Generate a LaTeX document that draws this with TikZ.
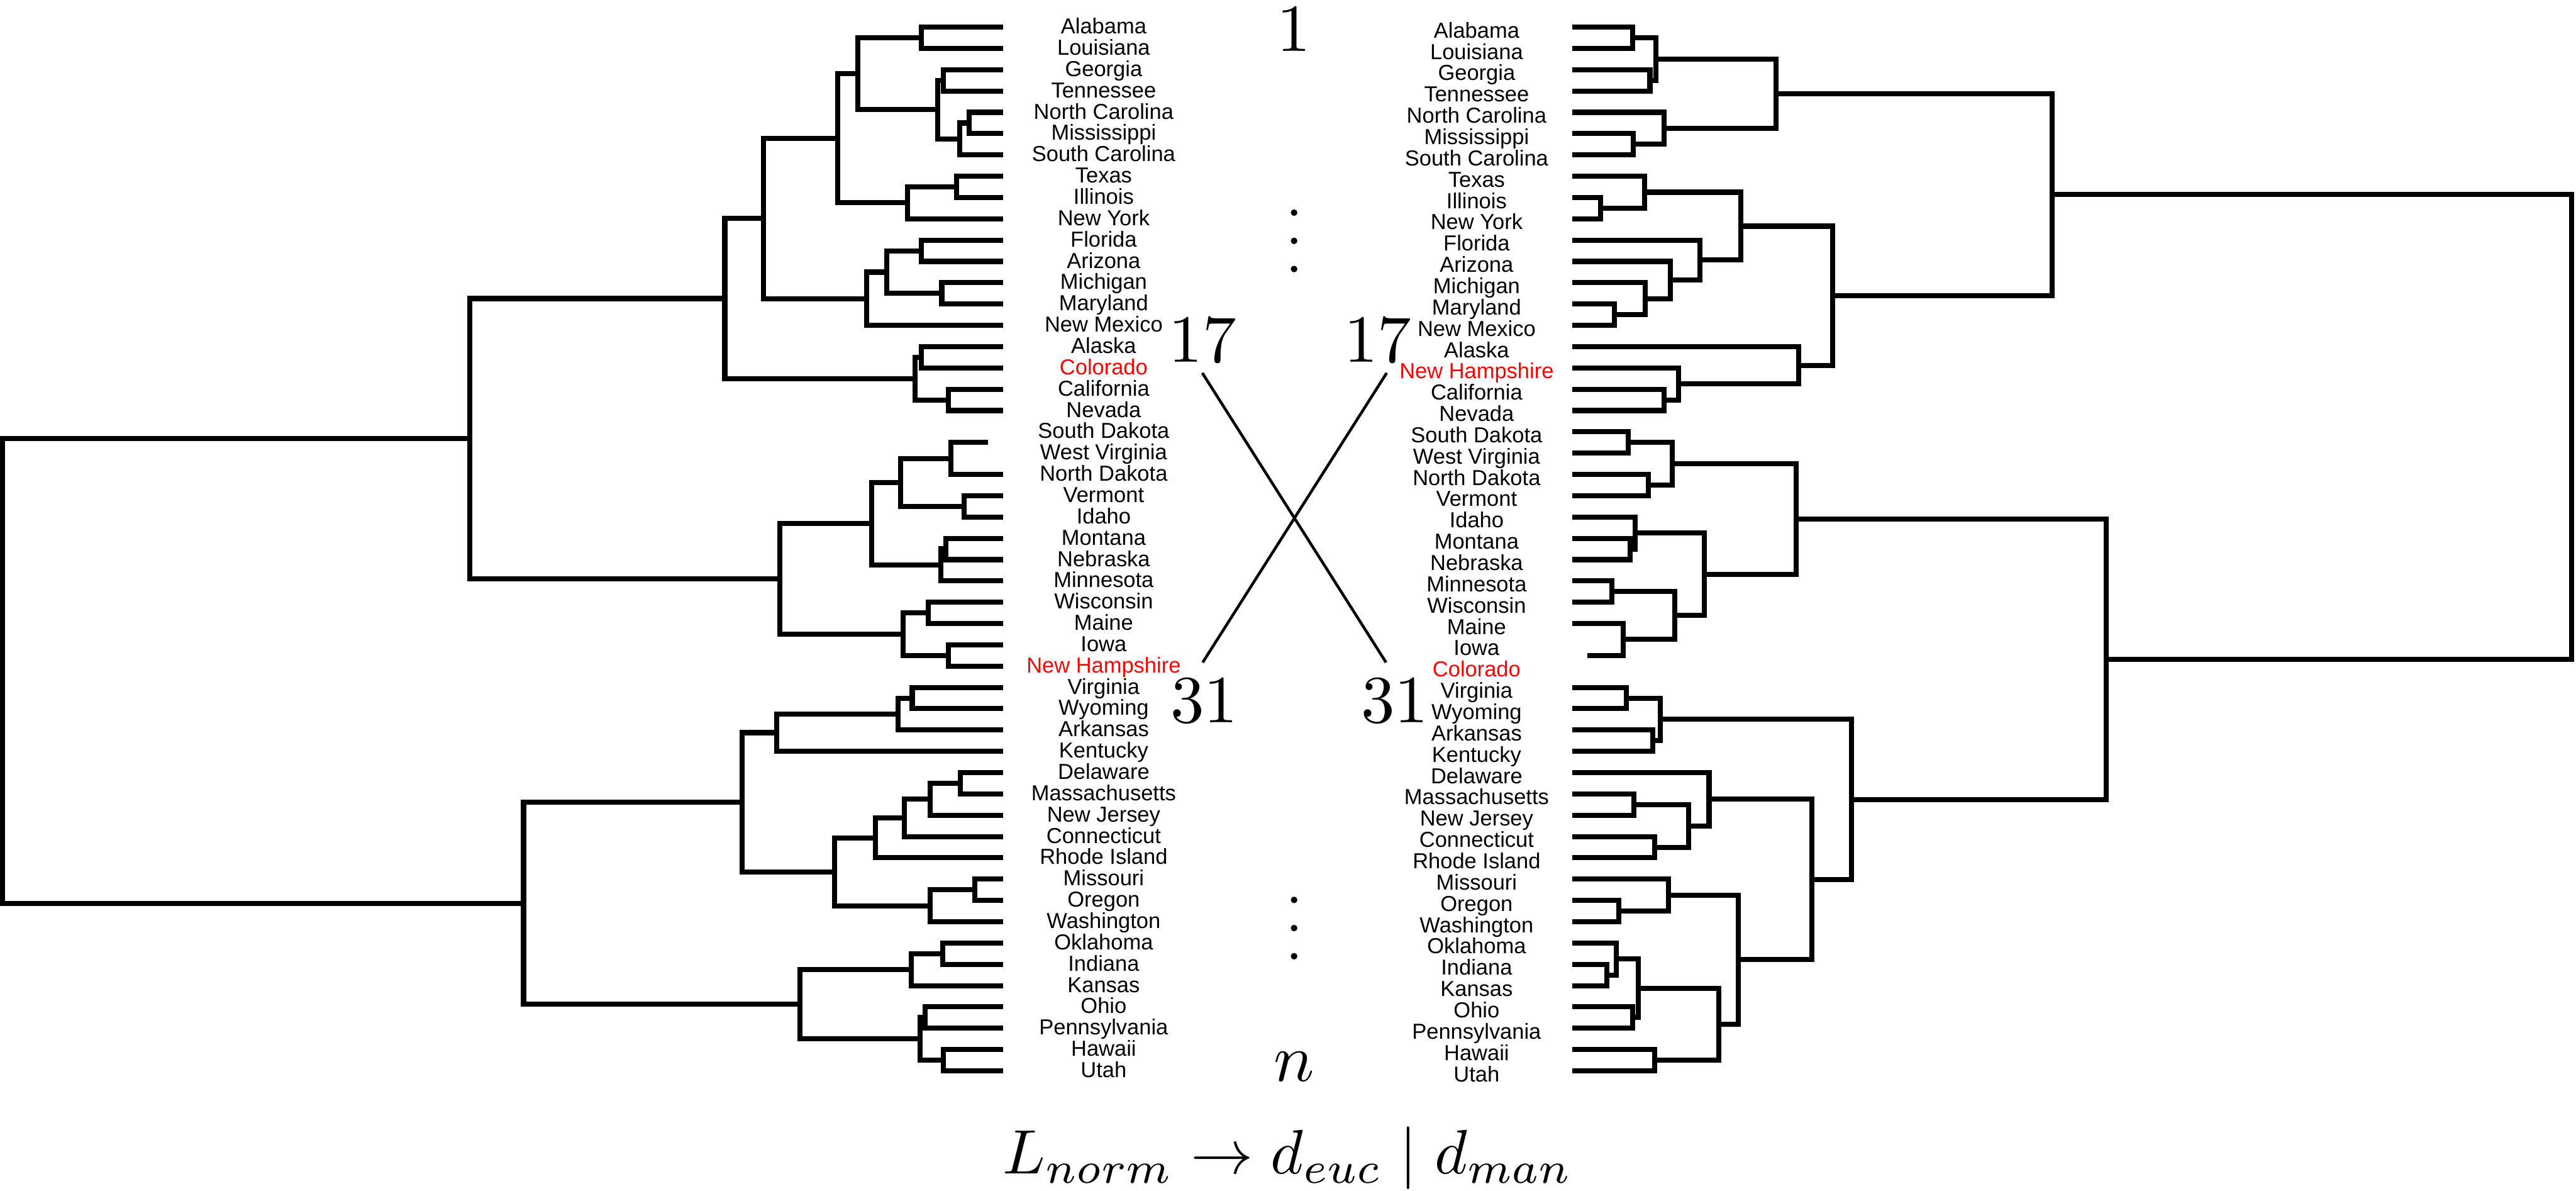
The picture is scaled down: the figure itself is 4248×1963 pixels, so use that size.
\documentclass[tikz,border=0pt]{standalone}
\usepackage[no-math]{fontspec}
\newfontfamily\statefont{Liberation Sans}
\usepackage{tikz}

\begin{document}
\begin{tikzpicture}[x=0.36911pt, y=-0.36911pt,
    branch/.style={line width=3.1pt, line join=miter},
    statelabel/.style={font=\statefont\fontsize{13.2}{14}\selectfont,
        inner sep=0pt, text height=9.45pt, text depth=0pt},
    lstate/.style={statelabel, yshift=0.7pt},
    rstate/.style={statelabel, yshift=-1.8pt},
    bignum/.style={font=\normalsize, scale=4.1, inner sep=0pt, anchor=base},
    crossline/.style={line width=1.7pt}]

\useasboundingbox (0,0) rectangle (4248,1963);

% =============================================================================
% Left dendrogram
% =============================================================================
% Southern block
\draw[branch] (1654,44.7) -| (1519.5,79.8) -- (1654,79.8);
\draw[branch] (1654,115.0) -| (1555.2,150.0) -- (1654,150.0);
\draw[branch] (1654,185.1) -| (1598.6,220.3) -- (1654,220.3);
\draw[branch] (1598.6,202.7) -| (1582.9,255.4) -- (1654,255.4);
\draw[branch] (1555.2,132.5) -| (1546.6,229.0) -- (1582.9,229.0);
\draw[branch] (1519.5,62.3) -| (1414.3,180.8) -- (1546.6,180.8);
\draw[branch] (1654,290.5) -| (1577.5,325.6) -- (1654,325.6);
\draw[branch] (1577.5,308.1) -| (1496.1,360.7) -- (1654,360.7);
\draw[branch] (1414.3,121.5) -| (1381.8,334.4) -- (1496.1,334.4);
\draw[branch] (1654,395.8) -| (1519.5,430.9) -- (1654,430.9);
\draw[branch] (1654,466.0) -| (1553.1,501.1) -- (1654,501.1);
\draw[branch] (1519.5,413.4) -| (1462.0,483.6) -- (1553.1,483.6);
\draw[branch] (1462.0,448.5) -| (1429.5,536.2) -- (1654,536.2);
\draw[branch] (1381.8,228.0) -| (1258.7,492.3) -- (1429.5,492.3);
\draw[branch] (1654,571.4) -| (1519.5,606.5) -- (1654,606.5);
\draw[branch] (1654,641.6) -| (1563.9,676.7) -- (1654,676.7);
\draw[branch] (1519.5,589.0) -| (1508.6,659.2) -- (1563.9,659.2);
\draw[branch] (1258.7,360.1) -| (1195.3,624.1) -- (1508.6,624.1);

% Northern block
\draw[branch] (1629,729.4) -| (1567.7,782.0) -- (1654,782.0);
\draw[branch] (1654,817.1) -| (1589.4,852.2) -- (1654,852.2);
\draw[branch] (1567.7,755.7) -| (1485.3,834.7) -- (1589.4,834.7);
\draw[branch] (1654,887.3) -| (1559.6,922.5) -- (1654,922.5);
\draw[branch] (1559.6,904.9) -| (1551.4,957.6) -- (1654,957.6);
\draw[branch] (1485.3,795.2) -| (1437.6,931.3) -- (1551.4,931.3);
\draw[branch] (1654,992.7) -| (1530.3,1027.8) -- (1654,1027.8);
\draw[branch] (1654,1062.9) -| (1563.9,1098.0) -- (1654,1098.0);
\draw[branch] (1530.3,1010.3) -| (1489.1,1080.5) -- (1563.9,1080.5);
\draw[branch] (1437.6,863.2) -| (1285.8,1045.4) -- (1489.1,1045.4);
\draw[branch] (1195.3,492.1) -| (775,954.3) -- (1285.8,954.3);

% Eastern block
\draw[branch] (1654,1133.1) -| (1504.3,1168.2) -- (1654,1168.2);
\draw[branch] (1504.3,1150.7) -| (1481.0,1203.3) -- (1654,1203.3);
\draw[branch] (1481.0,1177.0) -| (1280.4,1238.4) -- (1654,1238.4);
\draw[branch] (1654,1273.6) -| (1584.0,1308.7) -- (1654,1308.7);
\draw[branch] (1584.0,1291.2) -| (1534.1,1343.8) -- (1654,1343.8);
\draw[branch] (1534.1,1317.5) -| (1491.8,1378.9) -- (1654,1378.9);
\draw[branch] (1491.8,1348.2) -| (1444.1,1414.0) -- (1654,1414.0);
\draw[branch] (1654,1449.1) -| (1607.3,1484.2) -- (1654,1484.2);
\draw[branch] (1607.3,1466.7) -| (1534.1,1519.3) -- (1654,1519.3);
\draw[branch] (1444.1,1381.1) -| (1376.3,1493.0) -- (1534.1,1493.0);
\draw[branch] (1280.4,1207.7) -| (1223.5,1437.1) -- (1376.3,1437.1);
\draw[branch] (1654,1554.4) -| (1554.2,1589.5) -- (1654,1589.5);
\draw[branch] (1554.2,1572.0) -| (1502.7,1624.7) -- (1654,1624.7);
\draw[branch] (1654,1659.8) -| (1526.0,1694.9) -- (1654,1694.9);
\draw[branch] (1654,1730.0) -| (1555.8,1765.1) -- (1654,1765.1);
\draw[branch] (1526.0,1677.4) -| (1517.3,1747.6) -- (1555.8,1747.6);
\draw[branch] (1502.7,1598.3) -| (1319.4,1712.5) -- (1517.3,1712.5);
\draw[branch] (1223.5,1322.4) -| (863.4,1655.4) -- (1319.4,1655.4);

% Root
\draw[branch] (775,723.2) -| (4.5,1488.9) -- (863.4,1488.9);

% =============================================================================
% Right dendrogram
% =============================================================================
% Top block
\draw[branch] (2593,44.7) -| (2692.3,79.8) -- (2593,79.8);
\draw[branch] (2593,115.0) -| (2720.8,150.0) -- (2593,150.0);
\draw[branch] (2692.3,62.3) -| (2730.5,132.5) -- (2720.8,132.5);
\draw[branch] (2593,220.3) -| (2693.5,255.4) -- (2593,255.4);
\draw[branch] (2593,185.1) -| (2744.4,237.9) -- (2693.5,237.9);
\draw[branch] (2730.5,97.4) -| (2928.6,211.5) -- (2744.4,211.5);
\draw[branch] (2593,325.6) -| (2639.6,360.7) -- (2593,360.7);
\draw[branch] (2593,290.5) -| (2712.3,343.2) -- (2639.6,343.2);
\draw[branch] (2593,501.1) -| (2662.0,536.2) -- (2593,536.2);
\draw[branch] (2593,466.0) -| (2713.5,518.7) -- (2662.0,518.7);
\draw[branch] (2593,430.9) -| (2754.7,492.3) -- (2713.5,492.3);
\draw[branch] (2593,395.8) -| (2803.2,461.6) -- (2754.7,461.6);
\draw[branch] (2712.3,316.8) -| (2871.0,428.7) -- (2803.2,428.7);
\draw[branch] (2593,641.6) -| (2743.8,676.7) -- (2593,676.7);
\draw[branch] (2593,606.5) -| (2768.0,659.2) -- (2743.8,659.2);
\draw[branch] (2593,571.4) -| (2966.2,632.8) -- (2768.0,632.8);
\draw[branch] (2871.0,372.8) -| (3022.5,602.1) -- (2966.2,602.1);
\draw[branch] (2928.6,154.4) -| (3384.0,487.4) -- (3022.5,487.4);

% Middle block
\draw[branch] (2593,711.8) -| (2685.0,746.9) -- (2593,746.9);
\draw[branch] (2593,782.0) -| (2717.8,817.1) -- (2593,817.1);
\draw[branch] (2685.0,729.4) -| (2757.7,799.6) -- (2717.8,799.6);
\draw[branch] (2593,887.3) -| (2688.1,922.5) -- (2593,922.5);
\draw[branch] (2593,852.2) -| (2696.5,904.9) -- (2688.1,904.9);
\draw[branch] (2593,957.6) -| (2657.8,992.7) -- (2593,992.7);
\draw[branch] (2593,1027.8) -| (2677.2,1080.2) -- (2617.8,1080.2);
\draw[branch] (2657.8,975.2) -| (2762.0,1054.0) -- (2677.2,1054.0);
\draw[branch] (2696.5,878.6) -| (2810.5,1014.6) -- (2762.0,1014.6);
\draw[branch] (2757.7,764.5) -| (2961.9,946.6) -- (2810.5,946.6);

% Bottom block
\draw[branch] (2593,1133.1) -| (2682.0,1168.2) -- (2593,1168.2);
\draw[branch] (2593,1203.3) -| (2725.6,1238.4) -- (2593,1238.4);
\draw[branch] (2682.0,1150.7) -| (2737.8,1220.9) -- (2725.6,1220.9);
\draw[branch] (2593,1308.7) -| (2694.1,1343.8) -- (2593,1343.8);
\draw[branch] (2593,1378.9) -| (2728.7,1414.0) -- (2593,1414.0);
\draw[branch] (2694.1,1326.3) -| (2785.0,1396.5) -- (2728.7,1396.5);
\draw[branch] (2593,1273.6) -| (2818.3,1361.4) -- (2785.0,1361.4);
\draw[branch] (2593,1484.2) -| (2669.9,1519.3) -- (2593,1519.3);
\draw[branch] (2593,1449.1) -| (2751.1,1501.8) -- (2669.9,1501.8);
\draw[branch] (2593,1589.5) -| (2649.9,1624.7) -- (2593,1624.7);
\draw[branch] (2593,1554.4) -| (2665.0,1607.1) -- (2649.9,1607.1);
\draw[branch] (2593,1659.8) -| (2692.3,1694.9) -- (2593,1694.9);
\draw[branch] (2665.0,1580.8) -| (2701.4,1677.4) -- (2692.3,1677.4);
\draw[branch] (2593,1730.0) -| (2728.7,1765.1) -- (2593,1765.1);
\draw[branch] (2701.4,1629.1) -| (2834.7,1747.6) -- (2728.7,1747.6);
\draw[branch] (2751.1,1475.4) -| (2866.2,1688.3) -- (2834.7,1688.3);
\draw[branch] (2818.3,1317.5) -| (2988.0,1581.9) -- (2866.2,1581.9);
\draw[branch] (2737.8,1185.8) -| (3052.8,1449.7) -- (2988.0,1449.7);
\draw[branch] (2961.9,855.5) -| (3473.4,1317.7) -- (3052.8,1317.7);

% Root
\draw[branch] (3384.0,320.9) -| (4241.0,1086.6) -- (3473.4,1086.6);

% =============================================================================
% Leaf labels, left
% =============================================================================
\node[lstate] (l-AL) at (1820,44.7) {Alabama};
\node[lstate] (l-LA) at (1820,79.8) {Louisiana};
\node[lstate] (l-GA) at (1820,115.0) {Georgia};
\node[lstate] (l-TN) at (1820,150.0) {Tennessee};
\node[lstate] (l-NC) at (1820,185.1) {North Carolina};
\node[lstate] (l-MS) at (1820,220.3) {Mississippi};
\node[lstate] (l-SC) at (1820,255.4) {South Carolina};
\node[lstate] (l-TX) at (1820,290.5) {Texas};
\node[lstate] (l-IL) at (1820,325.6) {Illinois};
\node[lstate] (l-NY) at (1820,360.7) {New York};
\node[lstate] (l-FL) at (1820,395.8) {Florida};
\node[lstate] (l-AZ) at (1820,430.9) {Arizona};
\node[lstate] (l-MI) at (1820,466.0) {Michigan};
\node[lstate] (l-MD) at (1820,501.1) {Maryland};
\node[lstate] (l-NM) at (1820,536.2) {New Mexico};
\node[lstate] (l-AK) at (1820,571.4) {Alaska};
\node[lstate, red] (l-CO) at (1820,606.5) {Colorado};
\node[lstate] (l-CA) at (1820,641.6) {California};
\node[lstate] (l-NV) at (1820,676.7) {Nevada};
\node[lstate] (l-SD) at (1820,711.8) {South Dakota};
\node[lstate] (l-WV) at (1820,746.9) {West Virginia};
\node[lstate] (l-ND) at (1820,782.0) {North Dakota};
\node[lstate] (l-VT) at (1820,817.1) {Vermont};
\node[lstate] (l-ID) at (1820,852.2) {Idaho};
\node[lstate] (l-MT) at (1820,887.3) {Montana};
\node[lstate] (l-NE) at (1820,922.5) {Nebraska};
\node[lstate] (l-MN) at (1820,957.6) {Minnesota};
\node[lstate] (l-WI) at (1820,992.7) {Wisconsin};
\node[lstate] (l-ME) at (1820,1027.8) {Maine};
\node[lstate] (l-IA) at (1820,1062.9) {Iowa};
\node[lstate, red] (l-NH) at (1820,1098.0) {New Hampshire};
\node[lstate] (l-VA) at (1820,1133.1) {Virginia};
\node[lstate] (l-WY) at (1820,1168.2) {Wyoming};
\node[lstate] (l-AR) at (1820,1203.3) {Arkansas};
\node[lstate] (l-KY) at (1820,1238.4) {Kentucky};
\node[lstate] (l-DE) at (1820,1273.6) {Delaware};
\node[lstate] (l-MA) at (1820,1308.7) {Massachusetts};
\node[lstate] (l-NJ) at (1820,1343.8) {New Jersey};
\node[lstate] (l-CT) at (1820,1378.9) {Connecticut};
\node[lstate] (l-RI) at (1820,1414.0) {Rhode Island};
\node[lstate] (l-MO) at (1820,1449.1) {Missouri};
\node[lstate] (l-OR) at (1820,1484.2) {Oregon};
\node[lstate] (l-WA) at (1820,1519.3) {Washington};
\node[lstate] (l-OK) at (1820,1554.4) {Oklahoma};
\node[lstate] (l-IN) at (1820,1589.5) {Indiana};
\node[lstate] (l-KS) at (1820,1624.7) {Kansas};
\node[lstate] (l-OH) at (1820,1659.8) {Ohio};
\node[lstate] (l-PA) at (1820,1694.9) {Pennsylvania};
\node[lstate] (l-HI) at (1820,1730.0) {Hawaii};
\node[lstate] (l-UT) at (1820,1765.1) {Utah};

% =============================================================================
% Leaf labels, right
% =============================================================================
\node[rstate] (r-AL) at (2435,44.7) {Alabama};
\node[rstate] (r-LA) at (2435,79.8) {Louisiana};
\node[rstate] (r-GA) at (2435,115.0) {Georgia};
\node[rstate] (r-TN) at (2435,150.0) {Tennessee};
\node[rstate] (r-NC) at (2435,185.1) {North Carolina};
\node[rstate] (r-MS) at (2435,220.3) {Mississippi};
\node[rstate] (r-SC) at (2435,255.4) {South Carolina};
\node[rstate] (r-TX) at (2435,290.5) {Texas};
\node[rstate] (r-IL) at (2435,325.6) {Illinois};
\node[rstate] (r-NY) at (2435,360.7) {New York};
\node[rstate] (r-FL) at (2435,395.8) {Florida};
\node[rstate] (r-AZ) at (2435,430.9) {Arizona};
\node[rstate] (r-MI) at (2435,466.0) {Michigan};
\node[rstate] (r-MD) at (2435,501.1) {Maryland};
\node[rstate] (r-NM) at (2435,536.2) {New Mexico};
\node[rstate] (r-AK) at (2435,571.4) {Alaska};
\node[rstate, red] (r-NH) at (2435,606.5) {New Hampshire};
\node[rstate] (r-CA) at (2435,641.6) {California};
\node[rstate] (r-NV) at (2435,676.7) {Nevada};
\node[rstate] (r-SD) at (2435,711.8) {South Dakota};
\node[rstate] (r-WV) at (2435,746.9) {West Virginia};
\node[rstate] (r-ND) at (2435,782.0) {North Dakota};
\node[rstate] (r-VT) at (2435,817.1) {Vermont};
\node[rstate] (r-ID) at (2435,852.2) {Idaho};
\node[rstate] (r-MT) at (2435,887.3) {Montana};
\node[rstate] (r-NE) at (2435,922.5) {Nebraska};
\node[rstate] (r-MN) at (2435,957.6) {Minnesota};
\node[rstate] (r-WI) at (2435,992.7) {Wisconsin};
\node[rstate] (r-ME) at (2435,1027.8) {Maine};
\node[rstate] (r-IA) at (2435,1062.9) {Iowa};
\node[rstate, red] (r-CO) at (2435,1098.0) {Colorado};
\node[rstate] (r-VA) at (2435,1133.1) {Virginia};
\node[rstate] (r-WY) at (2435,1168.2) {Wyoming};
\node[rstate] (r-AR) at (2435,1203.3) {Arkansas};
\node[rstate] (r-KY) at (2435,1238.4) {Kentucky};
\node[rstate] (r-DE) at (2435,1273.6) {Delaware};
\node[rstate] (r-MA) at (2435,1308.7) {Massachusetts};
\node[rstate] (r-NJ) at (2435,1343.8) {New Jersey};
\node[rstate] (r-CT) at (2435,1378.9) {Connecticut};
\node[rstate] (r-RI) at (2435,1414.0) {Rhode Island};
\node[rstate] (r-MO) at (2435,1449.1) {Missouri};
\node[rstate] (r-OR) at (2435,1484.2) {Oregon};
\node[rstate] (r-WA) at (2435,1519.3) {Washington};
\node[rstate] (r-OK) at (2435,1554.4) {Oklahoma};
\node[rstate] (r-IN) at (2435,1589.5) {Indiana};
\node[rstate] (r-KS) at (2435,1624.7) {Kansas};
\node[rstate] (r-OH) at (2435,1659.8) {Ohio};
\node[rstate] (r-PA) at (2435,1694.9) {Pennsylvania};
\node[rstate] (r-HI) at (2435,1730.0) {Hawaii};
\node[rstate] (r-UT) at (2435,1765.1) {Utah};

% =============================================================================
% Indices, swap and formula
% =============================================================================
\node[bignum] (one) at (2134,84) {$1$};
\node[bignum] (l17) at (1983,597) {$17$};
\node[bignum] (r17) at (2272,597) {$17$};
\node[bignum] (l31) at (1986,1191) {$31$};
\node[bignum] (r31) at (2300,1191) {$31$};
\node[bignum] (last) at (2134,1782) {$n$};

% vertical dots
\fill (2134,350.5) circle (2pt);
\fill (2134,397.0) circle (2pt);
\fill (2134,443.4) circle (2pt);
\fill (2134,1483.4) circle (2pt);
\fill (2134,1529.8) circle (2pt);
\fill (2134,1576.2) circle (2pt);

% crossing lines
\coordinate (top-l) at (1982.7,614.8);
\coordinate (top-r) at (2286.7,614.8);
\coordinate (bot-l) at (1983.3,1092);
\coordinate (bot-r) at (2285.7,1092);
\draw[crossline] (top-l) -- (bot-r);
\draw[crossline] (top-r) -- (bot-l);

\node[bignum, scale=0.93] (formula) at (2124,1935) {$L_{norm}\rightarrow d_{euc}\mid d_{man}$};

\end{tikzpicture}
\end{document}
